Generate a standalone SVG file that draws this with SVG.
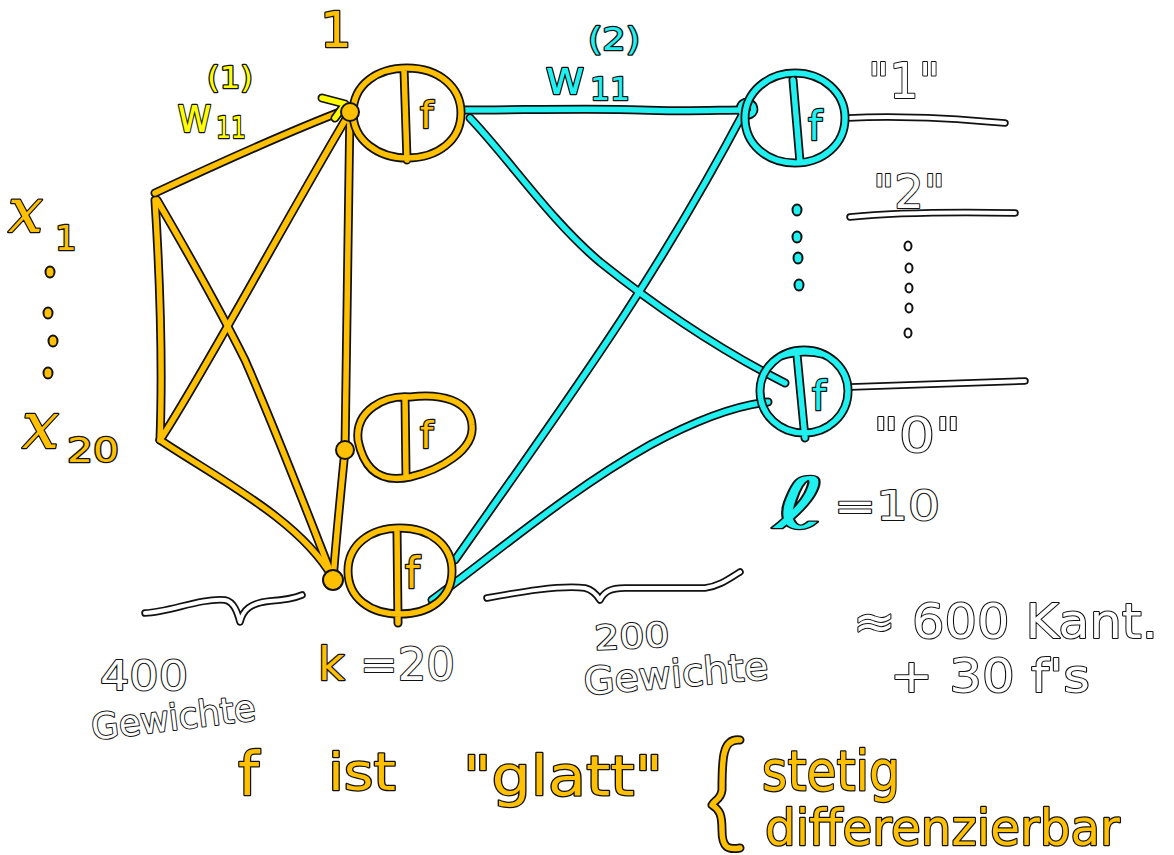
<svg xmlns="http://www.w3.org/2000/svg" xmlns:xlink="http://www.w3.org/1999/xlink" width="1174" height="855" viewBox="0 0 1174 855">
<style>
.k{fill:none;stroke:#111;stroke-width:9;stroke-linecap:round;stroke-linejoin:round}
.kw{fill:none;stroke:#111;stroke-width:7.5;stroke-linecap:round;stroke-linejoin:round}
.o{fill:none;stroke:#FFC000;stroke-width:5.5;stroke-linecap:round;stroke-linejoin:round}
.c{fill:none;stroke:#1FF0F0;stroke-width:5.5;stroke-linecap:round;stroke-linejoin:round}
.y{fill:none;stroke:#FFFF00;stroke-width:5.5;stroke-linecap:round;stroke-linejoin:round}
.w{fill:none;stroke:#FFFFFF;stroke-width:4;stroke-linecap:round;stroke-linejoin:round}
.dot{fill:#FFC000;stroke:#111;stroke-width:2}
.dc{fill:#1FF0F0;stroke:#111;stroke-width:2}
.dw{fill:#fff;stroke:#111;stroke-width:2}
text{font-family:"DejaVu Sans","Liberation Sans",sans-serif;paint-order:stroke;stroke:#111;stroke-width:2.5;stroke-linejoin:round}
.xi{font-family:"DejaVu Serif","Liberation Serif",serif;font-style:italic}
.to{fill:#FFC000}
.tc{fill:#1FF0F0}
.ty{fill:#FFFF00}
.tw{fill:#FFFFFF;stroke-width:2}
</style>
<defs>
<path id="eo1" d="M155,193 C215,165 280,135 345,110"/>
<path id="eo2" d="M157,200 C195,265 225,320 245,360 C280,440 310,520 333,578"/>
<path id="eo3" d="M160,440 C200,380 280,230 350,112"/>
<path id="eo4" d="M160,440 C220,480 300,520 333,578"/>
<path id="eo5" d="M155,200 C160,280 163,360 160,440"/>
<path id="eo6" d="M350,112 C348,230 346,350 345,450 C340,500 336,540 333,580"/>
<path id="arr" d="M322,98 L345,104 L335,118"/>
<path id="ec1" d="M462,110 C520,110 600,108 640,110 C680,112 720,110 745,110"/>
<path id="ec2" d="M470,118 C510,160 550,220 600,262 C660,310 720,350 785,383"/>
<path id="ec3" d="M455,560 C560,410 650,290 745,110"/>
<path id="ec4" d="M432,600 C500,550 570,490 650,445 C700,418 740,405 768,402"/>
<path id="eloop" d="M742,113 C736,104 748,98 753,106 C757,114 746,118 742,113"/>
<path id="h1" d="M353,113 C353,84 378,68 407,68 C440,68 461,88 461,113 C461,140 438,158 407,158 C378,158 353,140 353,113 Z M404,69 L407,160"/>
<path id="h2" d="M358,440 C355,410 385,395 410,397 C440,393 470,400 472,425 C475,450 440,470 410,477 C385,482 365,475 358,440 Z M405,397 L406,475"/>
<path id="h3" d="M348,571 C348,545 370,528 400,528 C430,528 452,545 452,571 C452,598 430,614 400,614 C370,614 348,598 348,571 Z M397,530 L398,623"/>
<path id="o1" d="M745,118 C745,92 768,73 795,73 C822,73 845,92 845,118 C845,145 822,163 795,163 C768,163 745,145 745,118 Z M793,80 L800,162"/>
<path id="o0" d="M760,391 C760,368 780,350 804,350 C828,350 848,368 848,391 C848,415 828,433 804,433 C780,433 760,415 760,391 Z M781,356 C795,351 812,351 822,354 M797,355 L805,438"/>
<path id="ow1" d="M848,118 C900,115 950,118 1005,123"/>
<path id="ow2" d="M850,217 C900,212 960,212 1015,213"/>
<path id="ow0" d="M850,387 L1025,381"/>
<path id="br1" d="M145,613 C170,612 200,598 225,600 C235,602 238,615 240,622 C243,610 250,603 270,601 C285,600 295,598 302,595"/>
<path id="br2" d="M487,598 C520,592 560,585 585,588 C593,590 597,595 600,600 C604,592 610,588 625,588 L705,588 C720,586 730,578 740,572"/>
<path id="brace" d="M740,740 C722,738 722,760 722,790 C721,800 714,800 712,805 C720,810 722,815 722,830 C722,848 728,850 740,848"/>
</defs>
<rect width="1174" height="855" fill="#fff"/>

<g id="connectors">
<use href="#eo1" class="k"/><use href="#eo2" class="k"/><use href="#eo3" class="k"/><use href="#eo4" class="k"/><use href="#eo5" class="k"/><use href="#eo6" class="k"/>
<use href="#eo1" class="o"/><use href="#eo2" class="o"/><use href="#eo3" class="o"/><use href="#eo4" class="o"/><use href="#eo5" class="o"/><use href="#eo6" class="o"/>
<use href="#arr" class="k"/><use href="#arr" class="y"/>
<use href="#ec1" class="k"/><use href="#ec2" class="k"/><use href="#ec3" class="k"/><use href="#ec4" class="k"/><use href="#eloop" class="k"/>
<use href="#ec1" class="c"/><use href="#ec2" class="c"/><use href="#ec3" class="c"/><use href="#ec4" class="c"/><use href="#eloop" class="c"/>
<use href="#ow1" class="kw"/><use href="#ow2" class="kw"/><use href="#ow0" class="kw"/>
<use href="#ow1" class="w"/><use href="#ow2" class="w"/><use href="#ow0" class="w"/>
</g>

<g id="input-x1">
<text class="to xi" x="8" y="232" font-size="62">x</text>
<text class="to" x="55" y="250" font-size="34">1</text>
</g>
<g id="input-dots">
<ellipse class="dot" cx="50" cy="272" rx="4.5" ry="5.5"/>
<ellipse class="dot" cx="48" cy="313" rx="4.5" ry="5.5"/>
<ellipse class="dot" cx="53" cy="341" rx="4.5" ry="5.5"/>
<ellipse class="dot" cx="48" cy="373" rx="4.5" ry="5.5"/>
</g>
<g id="input-x20">
<text class="to xi" x="22" y="448" font-size="66">x</text>
<text class="to" x="67" y="462" font-size="34" textLength="52" lengthAdjust="spacingAndGlyphs">20</text>
</g>

<g id="label-w1">
<text class="ty" x="207" y="88" font-size="30" textLength="46" lengthAdjust="spacingAndGlyphs">(1)</text>
<text class="ty" x="177" y="132" font-size="50" textLength="35" lengthAdjust="spacingAndGlyphs">w</text>
<text class="ty" x="216" y="138" font-size="30" textLength="30" lengthAdjust="spacingAndGlyphs">11</text>
</g>
<g id="label-bias">
<text class="to" x="320" y="47" font-size="50">1</text>
</g>

<g id="hidden-1">
<use href="#h1" class="k"/><use href="#h1" class="o"/>
<circle class="dot" cx="350" cy="112" r="9"/>
<text class="to" x="420" y="128" font-size="38">f</text>
</g>
<g id="hidden-2">
<use href="#h2" class="k"/><use href="#h2" class="o"/>
<circle class="dot" cx="345" cy="450" r="9"/>
<text class="to" x="420" y="448" font-size="38">f</text>
</g>
<g id="hidden-20">
<use href="#h3" class="k"/><use href="#h3" class="o"/>
<circle class="dot" cx="333" cy="580" r="10"/>
<text class="to" x="405" y="588" font-size="42">f</text>
</g>

<g id="label-w2">
<text class="tc" x="588" y="50" font-size="32" textLength="52" lengthAdjust="spacingAndGlyphs">(2)</text>
<text class="tc" x="545" y="94" font-size="48" textLength="40" lengthAdjust="spacingAndGlyphs">w</text>
<text class="tc" x="590" y="100" font-size="32" textLength="40" lengthAdjust="spacingAndGlyphs">11</text>
</g>

<g id="output-1">
<use href="#o1" class="k"/><use href="#o1" class="c"/>
<text class="tc" x="808" y="140" font-size="40">f</text>
</g>
<g id="output-dots">
<ellipse class="dc" cx="797" cy="210" rx="4.5" ry="5.5"/>
<ellipse class="dc" cx="797" cy="237" rx="4.5" ry="5.5"/>
<ellipse class="dc" cx="798" cy="258" rx="4.5" ry="5.5"/>
<ellipse class="dc" cx="799" cy="285" rx="4.5" ry="5.5"/>
</g>
<g id="output-0">
<use href="#o0" class="k"/><use href="#o0" class="c"/>
<text class="tc" x="812" y="410" font-size="40">f</text>
</g>

<g id="class-labels">
<text class="tw" x="868" y="98" font-size="50" textLength="72" lengthAdjust="spacingAndGlyphs">"1"</text>
<text class="tw" x="873" y="208" font-size="46" textLength="72" lengthAdjust="spacingAndGlyphs">"2"</text>
<text class="tw" x="873" y="452" font-size="48" textLength="88" lengthAdjust="spacingAndGlyphs">"0"</text>
<ellipse class="dw" cx="908" cy="246" rx="3.5" ry="4.5"/>
<ellipse class="dw" cx="909" cy="268" rx="3.5" ry="4.5"/>
<ellipse class="dw" cx="909" cy="288" rx="3.5" ry="4.5"/>
<ellipse class="dw" cx="909" cy="308" rx="3.5" ry="4.5"/>
<ellipse class="dw" cx="908" cy="333" rx="3.5" ry="4.5"/>
</g>

<g id="label-l">
<text class="tc" x="774" y="528" font-size="70" textLength="52" lengthAdjust="spacingAndGlyphs">ℓ</text>
<text class="tw" x="834" y="520" font-size="40" textLength="106" lengthAdjust="spacingAndGlyphs">=10</text>
</g>
<g id="label-k">
<text class="to" x="318" y="680" font-size="46">k</text>
<text class="tw" x="360" y="680" font-size="44" textLength="95" lengthAdjust="spacingAndGlyphs">=20</text>
</g>

<g id="brace-400">
<use href="#br1" class="kw"/><use href="#br1" class="w"/>
<text class="tw" x="100" y="690" font-size="40" textLength="88" lengthAdjust="spacingAndGlyphs">400</text>
<text class="tw" x="93" y="740" font-size="36" textLength="165" lengthAdjust="spacingAndGlyphs" transform="rotate(-7 93 740)">Gewichte</text>
</g>
<g id="brace-200">
<use href="#br2" class="kw"/><use href="#br2" class="w"/>
<text class="tw" x="595" y="650" font-size="34" textLength="75" lengthAdjust="spacingAndGlyphs" transform="rotate(-3 595 650)">200</text>
<text class="tw" x="585" y="695" font-size="38" textLength="185" lengthAdjust="spacingAndGlyphs" transform="rotate(-5 585 695)">Gewichte</text>
</g>

<g id="summary">
<text class="tw" x="853" y="638" font-size="48" textLength="305" lengthAdjust="spacingAndGlyphs">≈ 600 Kant.</text>
<text class="tw" x="890" y="692" font-size="46" textLength="200" lengthAdjust="spacingAndGlyphs">+ 30 f's</text>
</g>

<g id="note">
<text class="to" x="238" y="795" font-size="60">f</text>
<text class="to" x="328" y="790" font-size="52" textLength="68" lengthAdjust="spacingAndGlyphs">ist</text>
<text class="to" x="463" y="795" font-size="56" textLength="200" lengthAdjust="spacingAndGlyphs">"glatt"</text>
<use href="#brace" class="k"/><use href="#brace" class="o"/>
<text class="to" x="762" y="790" font-size="56" textLength="138" lengthAdjust="spacingAndGlyphs">stetig</text>
<text class="to" x="765" y="845" font-size="50" textLength="355" lengthAdjust="spacingAndGlyphs">differenzierbar</text>
</g>
</svg>
